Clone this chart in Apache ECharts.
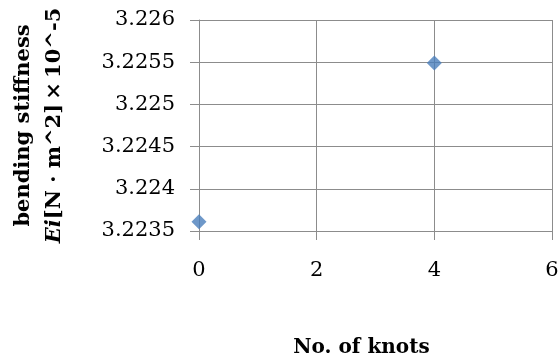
<!DOCTYPE html>
<html><head><meta charset="utf-8">
<script src="https://cdn.jsdelivr.net/npm/echarts@6/dist/echarts.min.js"></script>
<style>html,body{margin:0;padding:0;background:#fff}#c{width:559px;height:361px}</style>
</head><body><div id="c"></div>
<script>
var knots = [0, 4];
var stiffness = [3.22361, 3.22549];
var xTicks = {min: 0, max: 6, interval: 2};
var yTicks = {min: 3.2235, max: 3.226, interval: 0.0005};
var xName = 'No. of knots';
var yNameLine1 = 'bending stiffness';
var yNameItalic = 'Ei';
var yNameRest = '[N · m^2]\u2009×\u200910^-5';

var font = '"DejaVu Serif", serif';
var chart = echarts.init(document.getElementById('c'), null, {renderer: 'canvas'});
chart.setOption({
  animation: false,
  grid: {left: 199, right: 7, top: 20, bottom: 130, outerBoundsMode: 'none', containLabel: false},
  xAxis: {
    type: 'value', min: xTicks.min, max: xTicks.max, interval: xTicks.interval,
    name: xName, nameLocation: 'middle', nameGap: 107,
    nameTextStyle: {fontFamily: font, fontWeight: 'bold', fontSize: 20, color: '#000', padding: [0, 28, 0, 0]},
    axisLine: {show: true, lineStyle: {color: '#8c8c8c'}},
    axisTick: {show: true, length: 9, lineStyle: {color: '#8c8c8c'}},
    axisLabel: {fontFamily: font, fontSize: 21, color: '#000', margin: 29},
    splitLine: {show: true, lineStyle: {color: '#8c8c8c'}}
  },
  yAxis: {
    type: 'value', min: yTicks.min, max: yTicks.max, interval: yTicks.interval,
    name: yNameLine1 + '\n{b|' + yNameItalic + '}' + yNameRest,
    nameLocation: 'middle', nameGap: 129,
    nameTextStyle: {fontFamily: font, fontWeight: 'bold', fontSize: 21, color: '#000', lineHeight: 31,
      rich: {b: {fontFamily: font, fontWeight: 'bold', fontStyle: 'italic', fontSize: 21, color: '#000', lineHeight: 31}}},
    axisLine: {show: true, lineStyle: {color: '#8c8c8c'}},
    axisTick: {show: true, length: 9, lineStyle: {color: '#8c8c8c'}},
    axisLabel: {fontFamily: font, fontSize: 21, color: '#000', margin: 24,
      formatter: function (v) { return String(+v.toFixed(4)); }},
    splitLine: {show: true, lineStyle: {color: '#8c8c8c'}}
  },
  series: [{
    type: 'scatter', symbol: 'diamond', symbolSize: 15,
    itemStyle: {color: '#4a7ebb'},
    data: knots.map(function (k, i) { return [k, stiffness[i]]; })
  }]
});
</script></body></html>
